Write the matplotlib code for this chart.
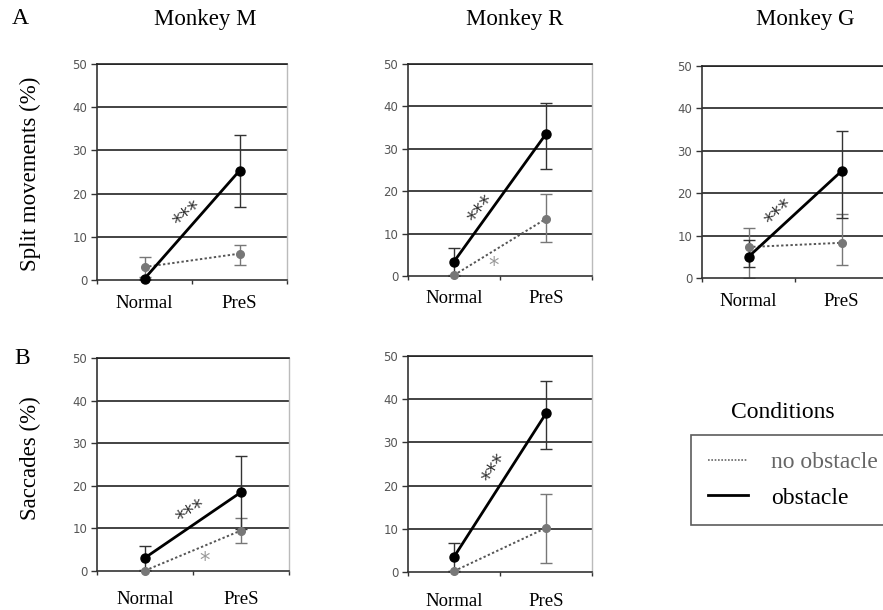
import matplotlib
matplotlib.use("Agg")
import matplotlib.pyplot as plt
from matplotlib.lines import Line2D

# ---------------- data ----------------
conditions = ["Normal", "PreS"]
titles = ["Monkey M", "Monkey R", "Monkey G"]

# Split movements (%)
split_obst = {"M": [0.3, 25.3], "R": [3.4, 33.5], "G": [5.0, 25.2]}
split_obst_lo = {"M": [0.0, 16.8], "R": [0.1, 25.3], "G": [2.6, 14.1]}
split_obst_hi = {"M": [0.3, 33.5], "R": [6.7, 40.9], "G": [9.0, 34.7]}
split_noob = {"M": [3.0, 6.1], "R": [0.2, 13.5], "G": [7.3, 8.3]}
split_noob_lo = {"M": [0.6, 3.4], "R": [0.0, 8.0], "G": [0.0, 3.0]}
split_noob_hi = {"M": [5.3, 8.1], "R": [0.2, 19.3], "G": [11.8, 15.1]}
split_stars = {"M": (0.96, 15.0, 40, "***", "#333"),
               "R": (0.81, 15.5, 51, "***", "#333"),
               "G": (0.84, 15.2, 43, "***", "#333")}
split_single = {"R": (0.93, 2.3, 0, "*", "#999")}

# Saccades (%)
sacc_obst = {"M": [3.1, 18.5], "R": [3.5, 36.7]}
sacc_obst_lo = {"M": [0.3, 9.8], "R": [0.2, 28.4]}
sacc_obst_hi = {"M": [5.9, 27.1], "R": [6.8, 44.2]}
sacc_noob = {"M": [0.1, 9.5], "R": [0.2, 10.2]}
sacc_noob_lo = {"M": [0.0, 6.5], "R": [0.0, 2.0]}
sacc_noob_hi = {"M": [0.1, 12.5], "R": [0.2, 18.1]}
sacc_stars = {"M": (0.99, 13.6, 32, "***", "#333"),
              "R": (0.95, 23.9, 57, "***", "#333")}
sacc_single = {"M": (1.125, 2.3, 0, "*", "#999")}

yticks = [0, 10, 20, 30, 40, 50]

W, H = 883, 610
fig = plt.figure(figsize=(W / 100, H / 100), dpi=100)
fig.patch.set_facecolor("white")

serif = ["Liberation Serif", "DejaVu Serif"]


def px_axes(left, right, top, bottom):
    return fig.add_axes([left / W, 1 - bottom / H, (right - left) / W, (bottom - top) / H])


def draw_panel(ax, obst, olo, ohi, noob, nlo, nhi, stars, single, lab_off):
    xs = [0.5, 1.5]
    ax.set_xlim(0, 2)
    ax.set_ylim(0, 50)
    for g in yticks[1:]:
        ax.axhline(g, color="#222", lw=1.2, zorder=1)
    # error bars
    ax.errorbar(xs, noob, yerr=[[n - l for n, l in zip(noob, nlo)], [h - n for n, h in zip(noob, nhi)]],
                fmt="none", ecolor="#777", elinewidth=1.0, capsize=4, capthick=1.0, zorder=2)
    ax.errorbar(xs, obst, yerr=[[o - l for o, l in zip(obst, olo)], [h - o for o, h in zip(obst, ohi)]],
                fmt="none", ecolor="#333", elinewidth=1.0, capsize=4, capthick=1.0, zorder=2)
    ax.plot(xs, noob, ls=(0, (1.2, 1.2)), color="#555", lw=1.4, marker="o", ms=5.5,
            mfc="#777", mec="#777", zorder=3, clip_on=False)
    ax.plot(xs, obst, ls="-", color="black", lw=2.0, marker="o", ms=6.5,
            mfc="black", mec="black", zorder=4, clip_on=False)
    for (x, y, rot, s, c) in list(stars) + list(single):
        ax.text(x, y, s, rotation=rot, ha="center", va="center", fontsize=15,
                color=c, family="DejaVu Sans", zorder=5, rotation_mode="anchor")
    ax.set_yticks(yticks)
    ax.set_xticks([0, 1, 2])
    ax.set_xticklabels([])
    ax.tick_params(axis="y", direction="out", length=4, width=1, colors="#333",
                   labelsize=8.5, labelcolor="#555", pad=3)
    ax.tick_params(axis="x", direction="out", length=3, width=1, colors="#333")
    for lab in ax.get_yticklabels():
        lab.set_family("DejaVu Sans")
    ax.spines["left"].set_color("#333")
    ax.spines["left"].set_linewidth(1.2)
    ax.spines["bottom"].set_color("#333")
    ax.spines["bottom"].set_linewidth(1.2)
    ax.spines["top"].set_color("#222")
    ax.spines["top"].set_linewidth(1.2)
    ax.spines["right"].set_color("#bbb")
    ax.spines["right"].set_linewidth(1.0)
    for x, lab in zip(xs, conditions):
        ax.annotate(lab, xy=(x, 0), xycoords="data", xytext=(0, -lab_off * 0.72),
                    textcoords="offset points", ha="center", va="center",
                    fontsize=13.5, family=serif, annotation_clip=False)


keys = ["M", "R", "G"]
boxesA = [(97, 287, 64, 280), (408, 592, 64, 276), (702, 888, 66, 278)]
for k, b, t in zip(keys, boxesA, titles):
    ax = px_axes(*b)
    st = [split_stars[k]]
    sg = [split_single[k]] if k in split_single else []
    draw_panel(ax, split_obst[k], split_obst_lo[k], split_obst_hi[k],
               split_noob[k], split_noob_lo[k], split_noob_hi[k], st, sg, 23)
    cx = {"M": 205, "R": 515, "G": 805}[k]
    fig.text(cx / W, 1 - 20 / H, t, ha="center", va="center", fontsize=16.5, family=serif)

boxesB = [(97, 289, 358, 571), (408, 592, 356, 572)]
for k, b in zip(["M", "R"], boxesB):
    ax = px_axes(*b)
    st = [sacc_stars[k]]
    sg = [sacc_single[k]] if k in sacc_single else []
    draw_panel(ax, sacc_obst[k], sacc_obst_lo[k], sacc_obst_hi[k],
               sacc_noob[k], sacc_noob_lo[k], sacc_noob_hi[k], st, sg, 29)

fig.text(20 / W, 1 - 18 / H, "A", ha="center", va="center", fontsize=17, family=serif)
fig.text(22 / W, 1 - 358 / H, "B", ha="center", va="center", fontsize=17, family=serif)
fig.text(30 / W, 1 - 174 / H, "Split movements (%)", rotation=90, ha="center", va="center",
         fontsize=16.5, family=serif)
fig.text(30 / W, 1 - 458 / H, "Saccades (%)", rotation=90, ha="center", va="center",
         fontsize=16.5, family=serif)

# legend
fig.text(783 / W, 1 - 412 / H, "Conditions", ha="center", va="center", fontsize=17, family=serif)
handles = [Line2D([], [], ls=(0, (1, 1)), color="#666", lw=1.2),
           Line2D([], [], ls="-", color="black", lw=2.0)]
leg = fig.legend(handles, ["no obstacle", "obstacle"], loc="upper left",
                 bbox_to_anchor=(691 / W, 1 - 435 / H), borderaxespad=0.0,
                 frameon=True, fancybox=False,
                 edgecolor="#333", handlelength=1.7, handletextpad=1.0,
                 borderpad=0.7, labelspacing=0.6,
                 prop={"family": serif, "size": 17})
leg.get_frame().set_linewidth(1.2)
leg.get_texts()[0].set_color("#666")

fig.savefig("out.png", dpi=100, facecolor="white")
